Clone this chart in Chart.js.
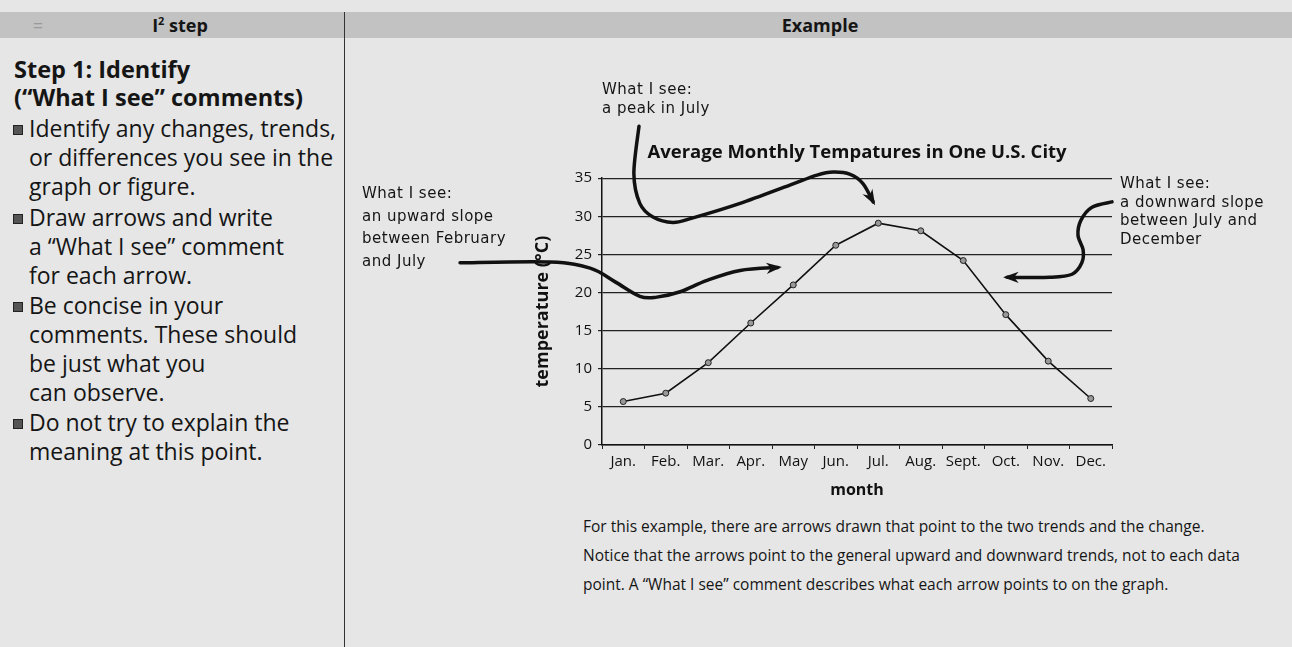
<!DOCTYPE html>
<html>
<head>
<meta charset="utf-8">
<script src="https://cdn.jsdelivr.net/npm/chart.js@4.4.1/dist/chart.umd.min.js"></script>
<style>
  body { margin:0; width:1292px; height:647px; overflow:hidden; position:relative; background:#e6e6e6; font-family:'Open Sans', sans-serif; color:#151515; }
  .band { position:absolute; left:0; top:12px; width:1292px; height:26px; background:#c2c2c2; }
  .band span { position:absolute; top:0; line-height:26px; font-weight:bold; font-size:18px; transform:translateX(-50%); white-space:nowrap; }
  .band sup { font-size:11px; line-height:0; vertical-align:7px; }
  .divider { position:absolute; left:344px; top:12px; width:1px; height:635px; background:#333; }
  .txt { position:absolute; font-size:23px; line-height:29px; white-space:nowrap; }
  .head { left:14px; font-weight:bold; font-size:23.5px; }
  .li { left:29px; }
  .sq { position:absolute; left:13px; width:8px; height:8px; background:#555; border:1px solid #222; }
  .note { position:absolute; font-family:'DejaVu Sans', sans-serif; font-size:15px; letter-spacing:0.5px; line-height:21px; white-space:nowrap; }
  .para { position:absolute; left:583px; top:512px; font-size:15.5px; line-height:29px; white-space:nowrap; }
  #wrap { position:absolute; left:352px; top:40px; width:940px; height:470px; }
</style>
</head>
<body>
<div class="band">
  <span style="left:38px;color:#999;font-weight:normal">=</span>
  <span style="left:180px">I<sup>2</sup> step</span>
  <span style="left:820px">Example</span>
</div>
<div class="divider"></div>

<div class="txt head" style="top:55px">Step 1: Identify</div>
<div class="txt head" style="top:83px">(“What I see” comments)</div>

<div class="sq" style="top:125px"></div>
<div class="txt li" style="top:114px">Identify any changes, trends,<br>or differences you see in the<br>graph or figure.</div>
<div class="sq" style="top:214px"></div>
<div class="txt li" style="top:203px">Draw arrows and write<br>a “What I see” comment<br>for each arrow.</div>
<div class="sq" style="top:302px"></div>
<div class="txt li" style="top:291px">Be concise in your<br>comments. These should<br>be just what you<br>can observe.</div>
<div class="sq" style="top:419px"></div>
<div class="txt li" style="top:408px">Do not try to explain the<br>meaning at this point.</div>

<div id="wrap"><canvas id="chart" width="940" height="470"></canvas></div>

<div class="note" style="left:602px;top:80px;line-height:19px">What I see:<br>a peak in July</div>
<div class="note" style="left:362px;top:182px;line-height:22.5px">What I see:<br>an upward slope<br>between February<br>and July</div>
<div class="note" style="left:1120px;top:174px;line-height:18.5px">What I see:<br>a downward slope<br>between July and<br>December</div>

<div class="para">For this example, there are arrows drawn that point to the two trends and the change.<br>Notice that the arrows point to the general upward and downward trends, not to each data<br>point. A “What I see” comment describes what each arrow points to on the graph.</div>

<script>
// data
const months = ['Jan.', 'Feb.', 'Mar.', 'Apr.', 'May', 'Jun.', 'Jul.', 'Aug.', 'Sept.', 'Oct.', 'Nov.', 'Dec.'];
const temps = [5.7, 6.8, 10.8, 16, 21, 26.2, 29.1, 28.1, 24.2, 17.1, 11, 6.1];
const yTicks = [0, 5, 10, 15, 20, 25, 30, 35];

// hand drawn arrows, given as [month index, temperature] so they follow the scales
const peakArrow = [[0.37, 41.8], [0.25, 35.6], [0.39, 31.7], [0.7, 29.9], [1.17, 29.2], [1.64, 29.8], [2.75, 31.7], [3.92, 34.1], [4.56, 35.4], [4.94, 35.8], [5.34, 35.5], [5.64, 34.3], [5.88, 31.9]];
const upArrow = [[-3.84, 23.9], [-1.72, 24], [-0.78, 23.2], [-0.19, 21.4], [0.39, 19.5], [0.79, 19.4], [1.34, 20.1], [1.97, 21.6], [2.75, 22.9], [3.64, 23.3]];
const downArrow = [[11.5, 31.9], [11.03, 31.2], [10.77, 29.5], [10.7, 27.5], [10.82, 25.6], [10.79, 23.9], [10.56, 22.4], [10.04, 22], [9.03, 22]];

const font = 'Open Sans';

function drawArrow(ctx, pts) {
  ctx.beginPath();
  ctx.moveTo(pts[0].x, pts[0].y);
  for (let i = 0; i < pts.length - 1; i++) {
    const p0 = pts[i - 1] || pts[i], p1 = pts[i], p2 = pts[i + 1], p3 = pts[i + 2] || p2;
    ctx.bezierCurveTo(p1.x + (p2.x - p0.x) / 6, p1.y + (p2.y - p0.y) / 6,
                      p2.x - (p3.x - p1.x) / 6, p2.y - (p3.y - p1.y) / 6, p2.x, p2.y);
  }
  ctx.stroke();
  // arrow head
  const a = pts[pts.length - 2], b = pts[pts.length - 1];
  const ang = Math.atan2(b.y - a.y, b.x - a.x);
  ctx.beginPath();
  ctx.moveTo(b.x + Math.cos(ang) * 4, b.y + Math.sin(ang) * 4);
  ctx.lineTo(b.x - Math.cos(ang - 0.45) * 13, b.y - Math.sin(ang - 0.45) * 13);
  ctx.lineTo(b.x - Math.cos(ang) * 7, b.y - Math.sin(ang) * 7);
  ctx.lineTo(b.x - Math.cos(ang + 0.45) * 13, b.y - Math.sin(ang + 0.45) * 13);
  ctx.closePath();
  ctx.fill();
}

const arrowPlugin = {
  id: 'arrows',
  afterDraw(chart) {
    const ctx = chart.ctx, x = chart.scales.x, y = chart.scales.y;
    ctx.save();
    ctx.strokeStyle = '#111';
    ctx.fillStyle = '#111';
    ctx.lineWidth = 3.5;
    ctx.lineCap = 'round';
    [peakArrow, upArrow, downArrow].forEach(arr => {
      drawArrow(ctx, arr.map(p => ({ x: x.getPixelForValue(p[0]), y: y.getPixelForValue(p[1]) })));
    });
    ctx.restore();
  }
};

new Chart(document.getElementById('chart'), {
  type: 'line',
  data: {
    labels: months,
    datasets: [{
      data: temps,
      borderColor: '#111',
      borderWidth: 1.6,
      pointRadius: 3,
      pointBackgroundColor: '#999',
      pointBorderColor: '#222',
      pointBorderWidth: 1,
      tension: 0
    }]
  },
  options: {
    responsive: false,
    animation: false,
    layout: { padding: { left: 180, right: 180, top: 102, bottom: 5 } },
    plugins: {
      legend: { display: false },
      tooltip: { enabled: false },
      title: {
        display: true,
        fullSize: false,
        text: 'Average Monthly Tempatures in One U.S. City',
        color: '#111',
        font: { family: font, size: 18.5, weight: 'bold' },
        padding: { top: 0, bottom: 14 }
      }
    },
    scales: {
      x: {
        offset: true,
        grid: { drawOnChartArea: false, tickLength: 4, color: '#222', offset: true },
        border: { color: '#111', width: 1.5 },
        ticks: { color: '#111', font: { family: font, size: 15 }, padding: 4, maxRotation: 0, autoSkip: false },
        title: { display: true, text: 'month', color: '#111', font: { family: font, size: 16, weight: 'bold' }, padding: { top: 0, bottom: 5 } },
        afterFit(s) { s.height = 60; }
      },
      y: {
        min: 0,
        max: 35,
        afterBuildTicks(s) { s.ticks = yTicks.map(v => ({ value: v })); },
        ticks: { color: '#111', font: { family: font, size: 15 }, padding: 6 },
        grid: { color: '#222', lineWidth: 1.2, tickLength: 4 },
        border: { color: '#111', width: 1.5 },
        title: { display: true, text: 'temperature (°C)', color: '#111', font: { family: font, size: 18, weight: 'bold' }, padding: { top: 0, bottom: 0 } },
        afterFit(s) { s.width = 70; }
      }
    }
  },
  plugins: [arrowPlugin]
});
</script>
</body>
</html>
